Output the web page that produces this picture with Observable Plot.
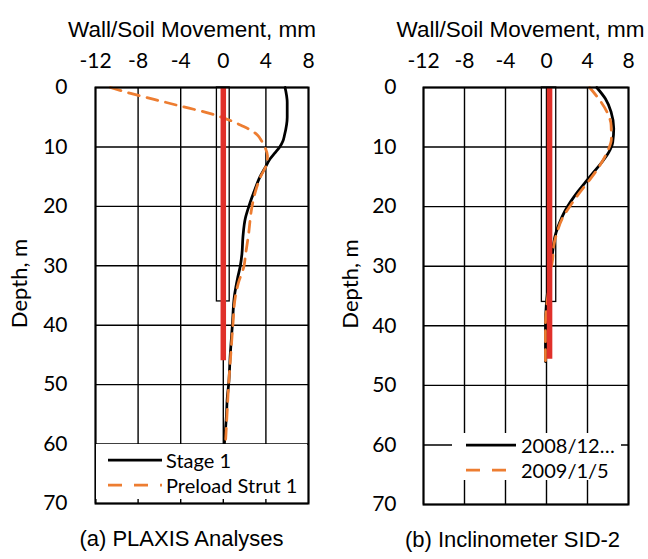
<!DOCTYPE html>
<html>
<head>
<meta charset="utf-8">
<script src="https://cdn.jsdelivr.net/npm/d3@7"></script>
<script src="https://cdn.jsdelivr.net/npm/@observablehq/plot@0.6"></script>
<style>
  html, body { margin: 0; padding: 0; background: #fff; }
  #chart { position: relative; width: 648px; height: 559px; overflow: hidden; }
  .panel { position: absolute; top: 0; }
  .legend { position: absolute; background: #fff; font-family: Lato, sans-serif; color: #000; }
  .legend .item { position: absolute; left: 0; height: 24px; display: flex; align-items: center; white-space: nowrap; }
  .legend svg { display: block; }
</style>
</head>
<body>
<div id="chart"></div>
<script>
// ---- tick values ----
const moveTicks = [-12, -8, -4, 0, 4, 8];
const depthTicks = [0, 10, 20, 30, 40, 50, 60, 70];

// ---- panel (a) PLAXIS Analyses ----
const stage1Depth = [0, 2.5, 5, 8, 9, 10, 11, 12, 13.4, 15, 17, 20, 22, 25, 28, 30, 32, 35, 40, 45, 50, 52, 55, 60];
const stage1Move  = [5.8, 6.0, 6.0, 5.75, 5.6, 5.3, 4.85, 4.4, 3.95, 3.45, 3.0, 2.4, 2.07, 1.85, 1.75, 1.6, 1.35, 1.05, 0.85, 0.65, 0.5, 0.38, 0.3, 0.1];

const preloadDepth = [0, 1, 2, 3, 4.4, 5.5, 6.4, 7.2, 8, 9, 10, 11.5, 13, 15, 17, 20, 25, 28, 30, 33, 35, 40, 45, 50, 55, 60];
const preloadMove  = [-10.6, -8.7, -6.5, -4.3, -1.2, 0.6, 1.7, 2.6, 3.2, 3.6, 3.9, 4.15, 4.05, 3.5, 3.1, 2.7, 2.35, 2.1, 1.95, 1.4, 1.15, 0.9, 0.7, 0.5, 0.35, 0.2];

const wallA = [{x1: -0.6, x2: 0.6, y1: 0, y2: 36}];
const pileA = [{x: 0, y1: 0, y2: 46}];

// ---- panel (b) Inclinometer SID-2 ----
const sid2008Depth = [0, 1.9, 4.1, 6.9, 9.2, 10.9, 12.5, 14.2, 15.9, 17.6, 19.2, 20.9, 22.6, 24.3, 26, 27.6, 30, 33, 36, 40, 46];
const sid2008Move  = [4.9, 5.75, 6.3, 6.56, 6.46, 6.07, 5.42, 4.6, 3.8, 3.0, 2.34, 1.75, 1.3, 0.94, 0.71, 0.6, 0.4, 0.2, 0.0, -0.1, -0.1];

const sid2009Depth = [0, 1.9, 4.1, 6.3, 8.6, 10.9, 13.1, 15.3, 17.6, 19.8, 22, 24.3, 26.5, 28.8, 31, 34, 37, 40, 46];
const sid2009Move  = [4.2, 5.1, 5.9, 6.3, 6.33, 5.9, 5.2, 4.3, 3.25, 2.34, 1.53, 1.04, 0.71, 0.6, 0.4, 0.2, 0.0, -0.1, -0.1];

const wallB = [{x1: -0.45, x2: 0.95, y1: 0, y2: 36}];
const pileB = [{x: 0.3, y1: 0, y2: 45.6}];

// ---- text ----
const xTitle = "Wall/Soil Movement, mm";
const yTitle = "Depth, m";
const captionA = "(a) PLAXIS Analyses";
const captionB = "(b) Inclinometer SID-2";
const legendA = ["Stage 1", "Preload Strut 1"];
const legendB = ["2008/12…", "2009/1/5"];

const BLACK = "#000000";
const ORANGE = "#ED7D31";
const RED = "#E0302A";

const zip = (ds, ms) => ds.map((d, i) => ({d, m: ms[i]}));

function panel(cfg) {
  const tickFont = "Lato, sans-serif";
  const arial = "'Liberation Sans', Arial, sans-serif";
  return Plot.plot({
    width: 324,
    height: 559,
    marginLeft: cfg.ml,
    marginRight: cfg.mr,
    marginTop: 87,
    marginBottom: cfg.mb,
    style: {fontFamily: tickFont, fontSize: "21px", color: "#000", background: "#fff", overflow: "visible"},
    x: {domain: [-12, 8]},
    y: {domain: [0, 70], reverse: true},
    marks: [
      Plot.gridX(moveTicks, {stroke: BLACK, strokeOpacity: 1, strokeWidth: 1.4}),
      Plot.gridY(depthTicks, {stroke: BLACK, strokeOpacity: 1, strokeWidth: 1.4}),
      Plot.axisX(moveTicks, {anchor: "top", tickSize: 0, tickPadding: cfg.xpad, label: null, fontSize: 21, tickFormat: d => String(d)}),
      Plot.axisY(depthTicks, {anchor: "left", tickSize: 0, tickPadding: cfg.ypad, label: null, fontSize: 21, tickFormat: d => String(d)}),
      Plot.rect(cfg.wall, {x1: "x1", x2: "x2", y1: "y1", y2: "y2", stroke: BLACK, fill: "none", strokeWidth: 1.3}),
      Plot.line(cfg.s1, {x: "m", y: "d", stroke: BLACK, strokeWidth: 2.75, curve: "monotone-y"}),
      Plot.line(cfg.s2, {x: "m", y: "d", stroke: ORANGE, strokeWidth: 2.75, strokeDasharray: "11,8", curve: "monotone-y"}),
      Plot.ruleX(cfg.pile, {x: "x", y1: "y1", y2: "y2", stroke: RED, strokeWidth: 5.5}),
      Plot.frame({stroke: BLACK, strokeWidth: 2}),
      Plot.text([xTitle], {frameAnchor: "top", dx: cfg.tdx, dy: -66, fontFamily: arial, fontSize: 22.5}),
      Plot.text([yTitle], {frameAnchor: "left", textAnchor: "middle", dx: cfg.ydx, dy: -12, rotate: -90, fontSize: 22}),
      Plot.text([cfg.caption], {frameAnchor: "bottom", dx: cfg.cdx, dy: 42, fontFamily: arial, fontSize: 22})
    ]
  });
}

function legend(cfg) {
  const div = document.createElement("div");
  div.className = "legend";
  Object.assign(div.style, {left: cfg.left + "px", top: cfg.top + "px", width: cfg.w + "px", height: cfg.h + "px"});
  cfg.items.forEach((it, i) => {
    const row = document.createElement("div");
    row.className = "item";
    row.style.top = (cfg.rowY[i] - 12) + "px";
    row.style.left = cfg.lineX + "px";
    const svg = d3.create("svg").attr("width", cfg.lineW).attr("height", 24);
    svg.append("line").attr("x1", 0).attr("x2", cfg.lineW).attr("y1", 12).attr("y2", 12)
      .attr("stroke", it.color).attr("stroke-width", 2.75)
      .attr("stroke-dasharray", it.dash || null);
    row.appendChild(svg.node());
    const span = document.createElement("span");
    span.textContent = it.label;
    span.style.marginLeft = cfg.gap + "px";
    span.style.fontSize = cfg.fs + "px";
    row.appendChild(span);
    div.appendChild(row);
  });
  return div;
}

const chart = document.getElementById("chart");

const pa = panel({ml: 95, mr: 16, mb: 56, xpad: 20, ypad: 28, tdx: -10, ydx: -76, cdx: -20.5,
  wall: wallA, pile: pileA, s1: zip(stage1Depth, stage1Move), s2: zip(preloadDepth, preloadMove), caption: captionA});
const pb = panel({ml: 99, mr: 20, mb: 55, xpad: 20, ypad: 27, tdx: -5.5, ydx: -73, cdx: -13.5,
  wall: wallB, pile: pileB, s1: zip(sid2008Depth, sid2008Move), s2: zip(sid2009Depth, sid2009Move), caption: captionB});

const wa = document.createElement("div"); wa.className = "panel"; wa.style.left = "0px"; wa.appendChild(pa);
const wb = document.createElement("div"); wb.className = "panel"; wb.style.left = "324px"; wb.appendChild(pb);
chart.appendChild(wa);
chart.appendChild(wb);

chart.appendChild(legend({left: 96, top: 444, w: 211, h: 55, rowY: [16, 41], lineX: 12, lineW: 54, gap: 4, fs: 20,
  items: [{label: legendA[0], color: BLACK}, {label: legendA[1], color: ORANGE, dash: "14,12"}]}));
chart.appendChild(legend({left: 452, top: 433, w: 169, h: 47, rowY: [12, 37], lineX: 14, lineW: 50, gap: 5, fs: 20,
  items: [{label: legendB[0], color: BLACK}, {label: legendB[1], color: ORANGE, dash: "14,12"}]}));
</script>
</body>
</html>
